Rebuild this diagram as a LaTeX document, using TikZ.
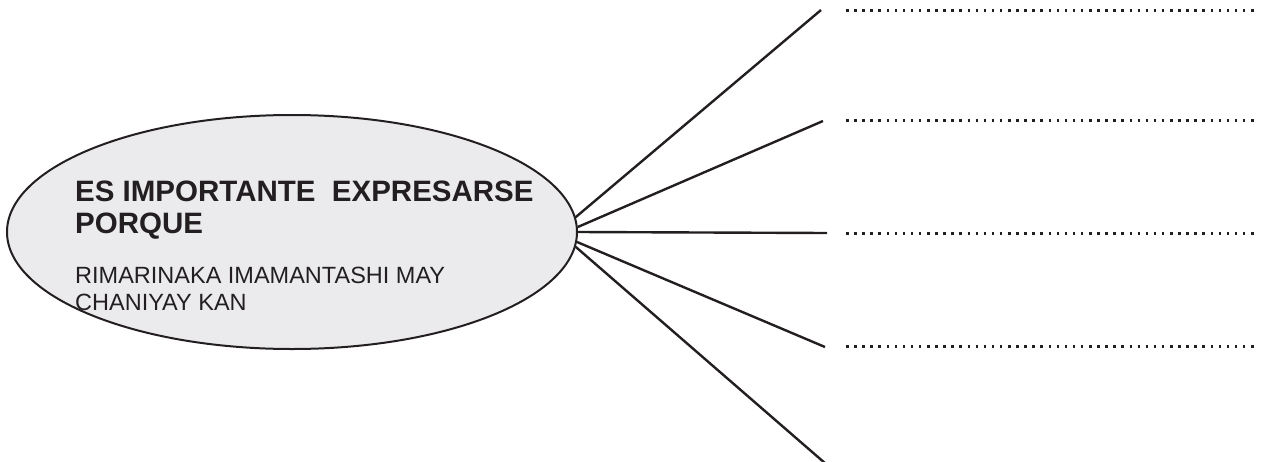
\documentclass[tikz,border=0pt]{standalone}
\usepackage{fontspec}
\setmainfont{Liberation Sans}
\usetikzlibrary{shapes.geometric}
\definecolor{ellfill}{RGB}{235,235,238}
\definecolor{ink}{RGB}{35,31,32}
\tikzset{
  bubble/.style={ellipse, draw=ink, line width=2pt, fill=ellfill, inner sep=0pt,
    minimum width=570pt, minimum height=234pt},
  spoke/.style={draw=ink, line width=2.4pt},
  dotline/.style={draw=ink, line width=2.5pt, dash pattern=on 2.5pt off 5.6pt},
  boldtxt/.style={anchor=base west, inner sep=0pt, text=ink, font=\fontsize{29.5}{32}\selectfont\bfseries},
  regtxt/.style={anchor=base west, inner sep=0pt, text=ink, font=\fontsize{23.5}{27}\selectfont},
}
\begin{document}
\begin{tikzpicture}[x=1pt,y=-1pt]
\useasboundingbox (0,0) rectangle (1261,461);
\node[bubble] (c) at (292,232) {};
\node[boldtxt] (t1) at (75,201.5) {ES IMPORTANTE\ \ EXPRESARSE};
\node[boldtxt] (t2) at (75,233.3) {PORQUE};
\node[regtxt] (t3) at (75,283.3) {RIMARINAKA IMAMANTASHI MAY};
\node[regtxt] (t4) at (75,310.7) {CHANIYAY KAN};
% spoke ends
\coordinate (e1) at (821,10);
\coordinate (e2) at (823,121);
\coordinate (e3) at (827,233);
\coordinate (e4) at (825,347);
\coordinate (e5) at (826,464);
\draw[spoke] (c.3) -- (e1);
\draw[spoke] (c.1.5) -- (e2);
\draw[spoke] (c.0) -- (e3);
\draw[spoke] (c.-2) -- (e4);
\draw[spoke] (c.-3.3) -- (e5);
% dotted answer lines
\coordinate (d1a) at (846,10.5);  \coordinate (d1b) at (1257,10.5);
\coordinate (d2a) at (846,120.5); \coordinate (d2b) at (1257,120.5);
\coordinate (d3a) at (846,233.5); \coordinate (d3b) at (1257,233.5);
\coordinate (d4a) at (846,346.5); \coordinate (d4b) at (1257,346.5);
\draw[dotline] (d1a) -- (d1b);
\draw[dotline] (d2a) -- (d2b);
\draw[dotline] (d3a) -- (d3b);
\draw[dotline] (d4a) -- (d4b);
\end{tikzpicture}
\end{document}
